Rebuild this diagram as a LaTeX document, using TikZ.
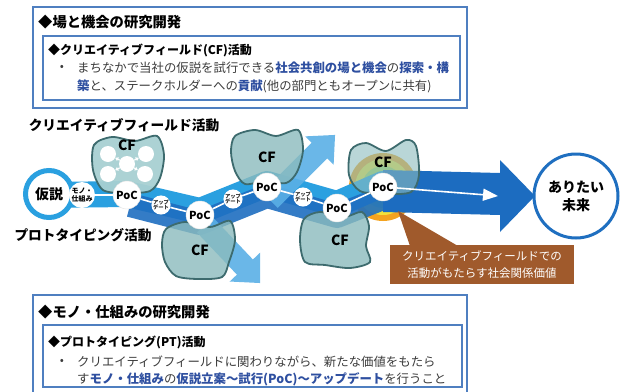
\documentclass[tikz,border=0pt]{standalone}
\usepackage{fontspec}
\setmainfont{Noto Sans CJK JP}
\usetikzlibrary{arrows.meta}
\definecolor{lightband}{HTML}{2AA0E0}
\definecolor{darkband}{HTML}{1E6EC0}
\definecolor{bigarrow}{HTML}{1C6CC0}
\definecolor{lightarrow}{HTML}{5AB0E6}
\definecolor{blobfill}{HTML}{8BBBBD}
\definecolor{blobfillA}{HTML}{A8D0D2}
\definecolor{blobedge}{HTML}{3D6B6E}
\definecolor{boxblue}{HTML}{4F7FC0}
\definecolor{hlblue}{HTML}{2E4FA0}
\definecolor{textgray}{HTML}{3C3C3C}
\definecolor{calloutbrown}{HTML}{A05A2C}
\definecolor{glowor}{HTML}{F4A31F}
\definecolor{glowye}{HTML}{F3E13A}
\definecolor{glowgr}{HTML}{A8D45A}
\definecolor{ringdark}{HTML}{1F6FC0}
\newcommand{\bluebf}[1]{{\bfseries\color{hlblue}#1}}
\pgfdeclarelayer{bg}
\pgfdeclarelayer{mid}
\pgfsetlayers{bg,mid,main}
\begin{document}
\begin{tikzpicture}[x=1pt,y=-1pt,
  boxline/.style={draw=boxblue,line width=1.1pt},
  blob/.style={draw=blobedge,line width=1.8pt,fill=blobfill,fill opacity=0.8},
  pocnode/.style={circle,fill=white,draw=black!12,line width=0.4pt,minimum size=28pt,inner sep=0pt,font=\bfseries\fontsize{11}{11}\selectfont},
  updnode/.style={circle,fill=white,minimum size=16pt,inner sep=0pt,align=center,text=black!85,font=\bfseries\fontsize{5.3}{5.6}\selectfont},
  cflabel/.style={inner sep=0pt,font=\bfseries\fontsize{14}{14}\selectfont},
  wcircle/.style={circle,fill=white,minimum size=16pt,inner sep=0pt},
  link/.style={white,line width=1.6pt},
  lbl/.style={inner sep=0pt,anchor=west},
  headA/.style={lbl,font=\bfseries\fontsize{14.3}{16}\selectfont},
  headB/.style={lbl,font=\bfseries\fontsize{12}{14}\selectfont},
  body/.style={lbl,text=textgray,font=\fontsize{12.4}{14}\selectfont},
  midlbl/.style={inner sep=0pt,font=\bfseries\fontsize{13.7}{15}\selectfont}]
\useasboundingbox (0,0) rectangle (621,391);

\begin{pgfonlayer}{bg}
\fill[white] (0,0) rectangle (621,391);
% boxes
\draw[boxline] (33,7) rectangle (467,108);
\draw[boxline] (43,36) rectangle (460,100);
\draw[boxline] (33,400) -- (33,295) -- (467,295) -- (467,400);
\draw[boxline] (43,325) rectangle (462,387);
% glow
\fill[glowor] (383,187) circle (34);
\fill[glowye] (383,187) circle (28);
\fill[glowgr] (383,187) circle (21);
% bands
\draw[lightband,line width=26pt,line join=round] (49,195) -- (127,194) -- (200,211) -- (267,184) -- (337,204) -- (383,184) -- (420,186);
\draw[darkband,line width=24pt,line join=round,opacity=0.9] (130,205) -- (200,223) -- (267,196) -- (337,216) -- (383,198) -- (420,198);
\fill[bigarrow] (383,170) -- (500,173) -- (500,160) -- (535,196) -- (500,232) -- (500,215) -- (383,212) -- cycle;
% light offshoot arrows
\begin{scope}[shift={(205,225)},rotate=-46.5]
\fill[lightarrow,opacity=0.9] (0,-11) -- (58,-11) -- (58,-21) -- (80,0) -- (58,21) -- (58,11) -- (0,11) -- cycle;
\end{scope}
\begin{scope}[shift={(270,200)},rotate=45]
\fill[lightarrow,opacity=0.9] (0,-11) -- (70,-11) -- (70,-20) -- (92,0) -- (70,20) -- (70,11) -- (0,11) -- cycle;
\end{scope}
% blobs
\draw[blob,fill=blobfillA,fill opacity=0.95] plot[smooth cycle] coordinates {(94,145) (112,137) (135,141) (157,136) (164,155) (160,178) (150,191) (126,193) (103,190) (93,170)};
\draw[blob] plot[smooth cycle] coordinates {(166,229) (185,222) (210,227) (230,221) (235,240) (229,262) (222,277) (198,279) (176,276) (165,262) (162,244)};
\draw[blob] plot[smooth cycle] coordinates {(235,136) (255,130) (276,136) (298,130) (303,150) (297,172) (286,183) (265,181) (245,184) (235,171) (231,152)};
\draw[blob] plot[smooth cycle] coordinates {(304,219) (320,212) (344,217) (362,212) (369,226) (366,246) (370,262) (350,268) (325,265) (305,262) (300,240)};
\draw[blob,fill opacity=0.6] plot[smooth cycle] coordinates {(351,150) (366,143) (386,151) (406,140) (416,146) (419,175) (411,192) (385,194) (360,191) (349,175)};
% callout pointer
\fill[calloutbrown] (398,211) -- (458,246) -- (410,246) -- cycle;
\end{pgfonlayer}

% texts in boxes
\node[headA] (h1) at (38,22) {◆場と機会の研究開発};
\node[headB] (h2) at (48,50) {◆クリエイティブフィールド(CF)活動};
\node[inner sep=0pt,text=textgray,font=\fontsize{12}{12}\selectfont] (b1) at (62,68) {•};
\node[body] (l1) at (77,68) {まちなかで当社の仮説を試行できる\bluebf{社会共創の場と機会}の\bluebf{探索・構}};
\node[body] (l2) at (77,86) {\bluebf{築}と、ステークホルダーへの\bluebf{貢献}(他の部門ともオープンに共有)};

\node[headA] (h3) at (38,312) {◆モノ・仕組みの研究開発};
\node[headB] (h4) at (48,342) {◆プロトタイピング(PT)活動};
\node[inner sep=0pt,text=textgray,font=\fontsize{12}{12}\selectfont] (b2) at (62,362) {•};
\node[body] (l3) at (77,362) {クリエイティブフィールドに関わりながら、新たな価値をもたら};
\node[body] (l4) at (77,379) {す\bluebf{モノ・仕組み}の\bluebf{仮説立案～試行(PoC)～アップデート}を行うこと};

% middle labels
\node[midlbl] (cfl) at (124,125) {クリエイティブフィールド活動};
\node[midlbl] (ptl) at (83,235) {プロトタイピング活動};

% CF labels
\node[cflabel] (cf1) at (127,145) {CF};
\node[cflabel] (cf2) at (200,250) {CF};
\node[cflabel] (cf3) at (267,157) {CF};
\node[cflabel] (cf4) at (340,240) {CF};
\node[cflabel] (cf5) at (383,162) {CF};

% white circles in first blob
\node[wcircle] (w1) at (108,154) {};
\node[wcircle] (w2) at (146,154) {};
\node[wcircle] (w3) at (127,164) {};
\node[wcircle] (w4) at (108,174) {};
\node[wcircle] (w5) at (145,174) {};

% main circles
\node[circle,draw=lightband,line width=5pt,fill=white,minimum size=47pt,inner sep=0pt,font=\bfseries\fontsize{14}{14}\selectfont] (kasetsu) at (49,194) {仮説};
\node[circle,fill=white,minimum size=26pt,inner sep=0pt,align=center,font=\bfseries\fontsize{7}{8}\selectfont] (mono) at (82,195) {モノ・\\仕組み};
\node[pocnode] (p1) at (127,195) {PoC};
\node[updnode] (u1) at (161,205) {アップ\\デート};
\node[pocnode] (p2) at (200,215) {PoC};
\node[updnode] (u2) at (233,199) {アップ\\デート};
\node[pocnode] (p3) at (267,187) {PoC};
\node[updnode] (u3) at (303,197) {アップ\\デート};
\node[pocnode] (p4) at (337,208) {PoC};
\node[pocnode] (p5) at (383,187) {PoC};
\coordinate (wtip) at (498,196);

\node[circle,draw=ringdark,line width=3pt,fill=white,minimum size=84pt,inner sep=0pt,align=center,font=\bfseries\fontsize{14}{18}\selectfont] (mirai) at (576,196) {ありたい\\未来};

\node[fill=calloutbrown,minimum width=184pt,minimum height=39pt,inner sep=0pt,align=center,text=white,font=\fontsize{11.5}{16.5}\selectfont] (callout) at (482,264.5) {クリエイティブフィールドでの\\活動がもたらす社会関係価値};

\begin{pgfonlayer}{mid}
\draw[link] (kasetsu) -- (mono) -- (p1) -- (u1) -- (p2) -- (u2) -- (p3) -- (u3) -- (p4) -- (p5);
\draw[link,-{Triangle[width=12pt,length=15pt]}] (p5) .. controls (440,191) .. (wtip);
\draw[white,line width=1.2pt,-{Triangle[width=4pt,length=3pt]}] (w3) -- (w1);
\draw[white,line width=1.2pt,-{Triangle[width=4pt,length=3pt]}] (w3) -- (w2);
\draw[white,line width=1.2pt,-{Triangle[width=4pt,length=3pt]}] (w3) -- (w4);
\draw[white,line width=1.2pt,-{Triangle[width=4pt,length=3pt]}] (w3) -- (w5);
\end{pgfonlayer}
\end{tikzpicture}
\end{document}
